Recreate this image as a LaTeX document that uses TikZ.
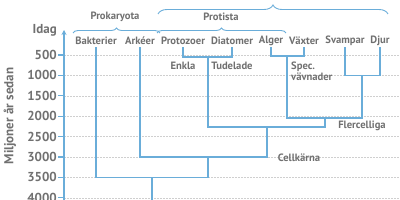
\documentclass[tikz,border=0pt]{standalone}
\usepackage{fontspec}
\setmainfont{PT Sans}
\usetikzlibrary{decorations.pathreplacing,arrows.meta}
\definecolor{tree}{HTML}{6AADD9}
\definecolor{txt}{HTML}{707070}
\definecolor{gridc}{HTML}{CFCFCF}
\begin{document}
\begin{tikzpicture}[x=1pt,y=-1pt,
  branch/.style={draw=tree,line width=1.1pt},
  lbl/.style={text=txt,font=\bfseries\fontsize{10.6}{11}\selectfont,inner sep=0pt},
  leaf/.style={lbl,minimum height=12pt},
  tickl/.style={text=txt,font=\bfseries\fontsize{13}{14}\selectfont,anchor=east,inner sep=0pt},
  gridl/.style={draw=gridc,line width=0.5pt,dash pattern=on 1.5pt off 1.5pt},
  bracel/.style={draw=tree,line width=0.9pt,decorate,decoration={brace,amplitude=5pt}}]
\useasboundingbox (0,0) rectangle (400,200);
% axis
\foreach \v in {500,1000,...,4000}{
  \pgfmathsetmacro\yy{34.6+0.0408*\v}
  \coordinate (g\v a) at (64,\yy);
  \coordinate (g\v b) at (400,\yy);
  \coordinate (g\v c) at (58,\yy);
  \draw[gridl] (g\v a) -- (g\v b);
  \draw[branch] (g\v c) -- (g\v a);
  \node[tickl] (t\v) at (57,\yy) {\v};
}
\coordinate (axbot) at (64,200);
\coordinate (axtop) at (64,30);
\draw[branch,-{Stealth[length=5pt,width=5pt]}] (axbot) -- (axtop);
\node[tickl] (idag) at (57,30) {Idag};
\node[tickl,anchor=center,rotate=90] (ytitle) at (10,116) {Miljoner år sedan};
% leaves
\node[leaf] (bakt) at (96,41) {Bakterier};
\node[leaf] (ark) at (140,41) {Arkéer};
\node[leaf] (proto) at (183,41) {Protozoer};
\node[leaf] (diat) at (232,41) {Diatomer};
\node[leaf] (alger) at (271,41) {Alger};
\node[leaf] (vaxt) at (304,41) {Växter};
\node[leaf] (svamp) at (345,41) {Svampar};
\node[leaf] (djur) at (380,41) {Djur};
% junctions
\coordinate (jroot) at (152,177.4);
\coordinate (jrootb) at (152,200);
\coordinate (jpro) at (208,177.4);
\coordinate (jcell) at (208,157);
\coordinate (jeuk) at (267,157);
\coordinate (jeukt) at (267,127);
\coordinate (jplL) at (208,127);
\coordinate (jplR) at (325,127);
\coordinate (jprotist) at (208,57);
\coordinate (jpd) at (183,57);
\coordinate (jpdR) at (232,57);
\coordinate (jav) at (271,56);
\coordinate (javR) at (304,56);
\coordinate (javm) at (287,56);
\coordinate (jmc) at (287,118);
\coordinate (jmcR) at (362,118);
\coordinate (jsd) at (345,75.4);
\coordinate (jsdR) at (380,75.4);
\coordinate (jsdm) at (362,75.4);
\coordinate (jmcm) at (325,118);
% branches
\draw[branch] (bakt.south) |- (jpro) -- (jcell);
\draw[branch] (ark.south) |- (jeuk) -- (jeukt);
\draw[branch] (jroot) -- (jrootb);
\draw[branch] (proto.south) |- (jpdR) -- (diat.south);
\draw[branch] (jprotist) -- (jplL) -- (jplR) -- (jmcm);
\draw[branch] (alger.south) |- (javR) -- (vaxt.south);
\draw[branch] (javm) |- (jmcR) -- (jsdm);
\draw[branch] (svamp.south) |- (jsdR) -- (djur.south);
% labels
\node[lbl] (enkla) at (183,66) {Enkla};
\node[lbl] (tud) at (232,66) {Tudelade};
\node[lbl,anchor=north west,align=left] (spec) at (291,62) {Spec.\\vävnader};
\node[lbl] (fler) at (362,126) {Flercelliga};
\node[lbl] (cellk) at (299,158) {Cellkärna};
\node[lbl] (prok) at (115,17) {Prokaryota};
\node[lbl] (protista) at (221,17) {Protista};
% braces
\coordinate (b1a) at (73,33); \coordinate (b1b) at (160,33);
\coordinate (b2a) at (157,33); \coordinate (b2b) at (286,33);
\coordinate (b3a) at (158,14); \coordinate (b3b) at (388,14);
\draw[bracel] (b1a) -- (b1b);
\draw[bracel] (b2a) -- (b2b);
\draw[bracel,decoration={amplitude=9pt}] (b3a) -- (b3b);
\end{tikzpicture}
\end{document}
